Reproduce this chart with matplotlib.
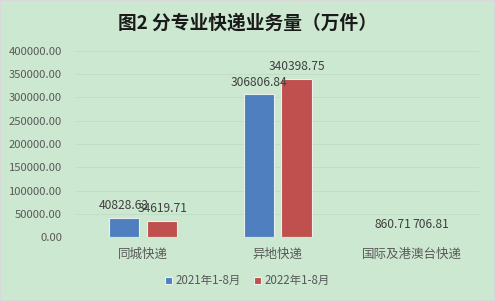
import matplotlib
matplotlib.use("Agg")
import matplotlib.pyplot as plt
import numpy as np

plt.rcParams['font.family'] = ['Noto Sans CJK SC', 'DejaVu Sans']

categories = ['同城快递', '异地快递', '国际及港澳台快递']
series_names = ['2021年1-8月', '2022年1-8月']
values_2021 = [40828.63, 306806.84, 860.71]
values_2022 = [34619.71, 340398.75, 706.81]
yticks = [0, 50000, 100000, 150000, 200000, 250000, 300000, 350000, 400000]

bg = '#cce8d0'
colors = ['#4f7fbf', '#c0504d']

fig = plt.figure(figsize=(4.95, 3.01), dpi=100, facecolor=bg)
ax = fig.add_axes([0.1535, 0.2126, 0.8145, 0.618])
ax.set_facecolor(bg)

x = np.arange(len(categories))
w = 0.225
off = 0.141
for vals, c, name, o in zip([values_2021, values_2022], colors, series_names, [-off, off]):
    ax.bar(x + o, vals, width=w, color=c, edgecolor='#e8f0f0', linewidth=0.8, label=name)
    for xi, v in zip(x + o, vals):
        ax.annotate(f'{v:.2f}', (xi, v), xytext=(0, 4), textcoords='offset points',
                    ha='center', va='bottom', fontsize=8.7, color='#404040')

ax.set_xlim(-0.5, 2.5)
ax.set_ylim(0, 400000)
ax.set_yticks(yticks)
ax.set_yticklabels([f'{t:.2f}' for t in yticks], fontsize=8.1, color='#595959')
ax.set_xticks(x)
ax.set_xticklabels(categories, fontsize=9, color='#595959')
ax.tick_params(axis='y', length=0, pad=10)
ax.tick_params(axis='x', length=0, pad=8)
ax.grid(axis='y', color='#bfdcc4', linewidth=0.6)
ax.set_axisbelow(True)
for s in ax.spines.values():
    s.set_visible(False)
ax.axhline(0, color='#bfd6c4', linewidth=0.8)

fig.text(0.5, 0.925, '图2 分专业快递业务量（万件）', ha='center', va='center', fontsize=13.5, fontweight='bold', color='#1a1a1a')

fig.legend(loc='center', bbox_to_anchor=(0.5, 0.067), ncol=2, frameon=False, fontsize=8.3,
           handlelength=0.6, handleheight=0.6, handletextpad=0.3, columnspacing=1.2, labelcolor='#595959')

fig.patches.append(plt.Rectangle((0, 0), 1, 1, transform=fig.transFigure, fill=False, edgecolor='#d9d9d9', linewidth=1.5))

fig.savefig('out.png', dpi=100, facecolor=bg)
